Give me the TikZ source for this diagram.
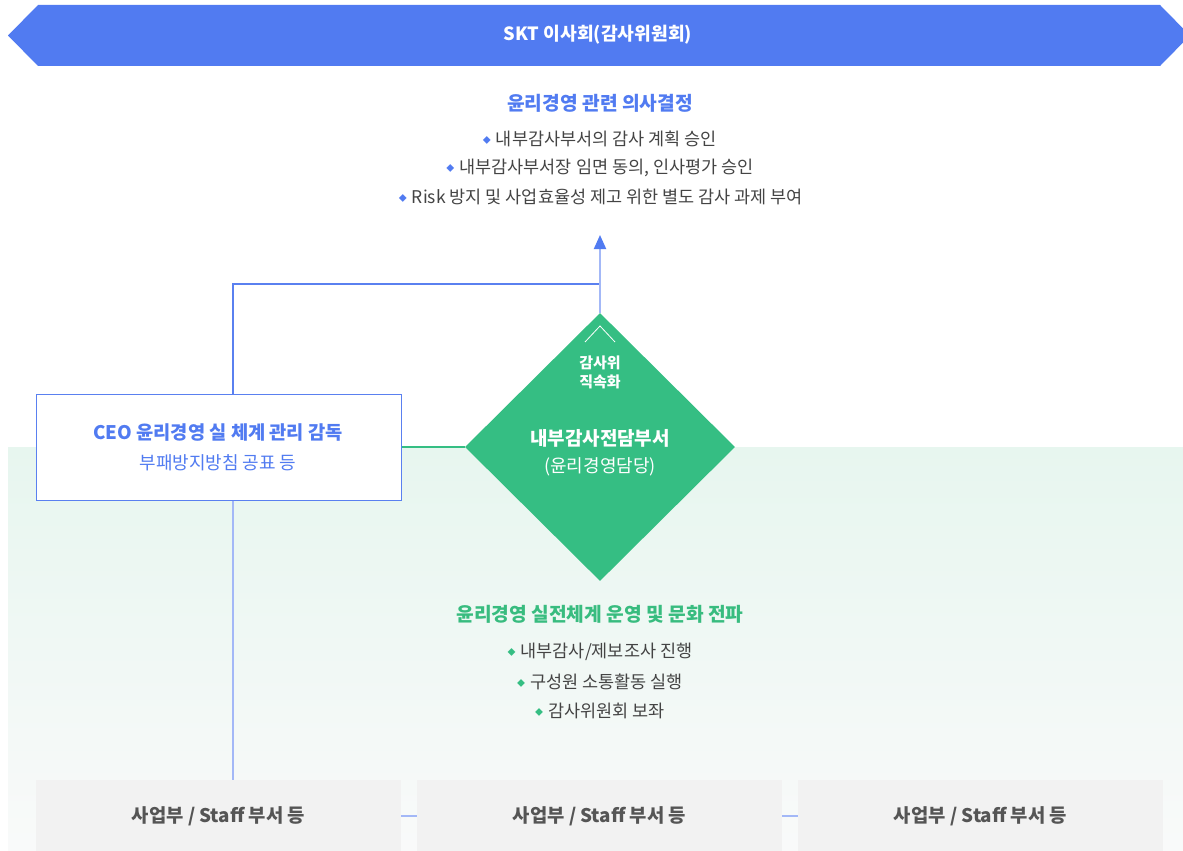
\documentclass[tikz,border=0pt]{standalone}
\usepackage{fontspec}
\setmainfont{Noto Sans CJK KR}
\usetikzlibrary{shapes.geometric,arrows.meta}
\definecolor{skblue}{HTML}{517BF1}
\definecolor{lineblue}{HTML}{5A80F0}
\definecolor{lightblue}{HTML}{A3B8F7}
\definecolor{skgreen}{HTML}{35BE83}
\definecolor{txtgreen}{HTML}{38BC7F}
\definecolor{txtgray}{HTML}{444444}
\definecolor{boxgray}{HTML}{F2F2F2}
\definecolor{boxtxt}{HTML}{555555}
\definecolor{bgtop}{HTML}{E7F6EF}
\definecolor{bgbot}{HTML}{F9FAFA}
\newcommand\bulB{\raisebox{2pt}{\fontsize{8}{8}\selectfont\textcolor{skblue}{◆}}\hspace{5pt}}
\newcommand\bulG{\raisebox{2pt}{\fontsize{8}{8}\selectfont\textcolor{skgreen}{◆}}\hspace{5pt}}
\tikzset{
  heading/.style={font=\fontsize{19.2}{21}\selectfont\bfseries, inner sep=0},
  bullet/.style={font=\fontsize{17.5}{19}\selectfont, text=txtgray, inner sep=0},
  unitbox/.style={fill=boxgray, minimum width=365pt, minimum height=72pt, inner sep=0,
                  font=\fontsize{18.8}{20}\selectfont\bfseries, text=boxtxt},
  blueline/.style={draw=lineblue, line width=1.2pt},
  lightline/.style={draw=lightblue, line width=1.2pt},
  greenline/.style={draw=skgreen, line width=1.2pt},
  wtxt/.style={text=white, inner sep=0},
}
\begin{document}
\begin{tikzpicture}[x=1pt,y=-1pt]
\useasboundingbox (0,0) rectangle (1183,851);
% background band
\fill[top color=bgtop, bottom color=bgbot] (8,447) rectangle (1183,851);
% banner
\fill[skblue] (8,35.5) -- (38,5) -- (1160,5) -- (1183,28.4) -- (1183,42.6) -- (1160,66) -- (38,66) -- cycle;
\node[wtxt, font=\fontsize{18.2}{20}\selectfont\bfseries] (board) at (598,35) {SKT 이사회(감사위원회)};
% top text
\node[heading, text=skblue] (h1) at (600,103) {윤리경영 관련 의사결정};
\node[bullet] (t1) at (600,139) {\bulB 내부감사부서의 감사 계획 승인};
\node[bullet] (t2) at (600,168) {\bulB 내부감사부서장 임면 동의, 인사평가 승인};
\node[bullet] (t3) at (601,197) {\bulB Risk 방지 및 사업효율성 제고 위한 별도 감사 과제 부여};
% diamond
\node[diamond, aspect=1, fill=skgreen, minimum width=270pt, minimum height=268pt, inner sep=0] (dia) at (600,447) {};
\draw[white, line width=0.8pt] (585,342) -- (600,326) -- (615,342);
\node[wtxt, font=\fontsize{15}{17}\selectfont\bfseries] (d1) at (600,363) {감사위};
\node[wtxt, font=\fontsize{15}{17}\selectfont\bfseries] (d2) at (600,382) {직속화};
\node[wtxt, font=\fontsize{19}{21}\selectfont\bfseries] (d3) at (600,438) {내부감사전담부서};
\node[wtxt, font=\fontsize{18}{20}\selectfont] (d4) at (600,467) {(윤리경영담당)};
% CEO box
\node[draw=lineblue, line width=1pt, fill=white, minimum width=365pt, minimum height=106pt, inner sep=0] (ceo) at (218.5,447) {};
\node[heading, font=\fontsize{18.7}{20}\selectfont\bfseries, text=skblue] (c1) at (218,433) {CEO 윤리경영 실 체계 관리 감독};
\node[font=\fontsize{18}{20}\selectfont, text=skblue, inner sep=0] (c2) at (218,463) {부패방지방침 공표 등};
% bottom text
\node[heading, text=txtgreen] (h2) at (600,614) {윤리경영 실전체계 운영 및 문화 전파};
\node[bullet] (g1) at (600,652) {\bulG 내부감사/제보조사 진행};
\node[bullet] (g2) at (600,682) {\bulG 구성원 소통활동 실행};
\node[bullet] (g3) at (600,711) {\bulG 감사위원회 보좌};
% unit boxes
\node[unitbox] (b1) at (218.5,816) {사업부 / Staff 부서 등};
\node[unitbox] (b2) at (599.5,816) {사업부 / Staff 부서 등};
\node[unitbox] (b3) at (980.5,816) {사업부 / Staff 부서 등};
% connectors
\coordinate (j) at (600,284);
\coordinate (tip) at (600,235);
\draw[blueline] ([xshift=14.5pt]ceo.north) |- (j);
\draw[draw=lightblue, line width=2pt, -{Triangle[width=12pt,length=14pt,color=skblue]}] (dia.north) -- (tip);
\draw[greenline] (ceo.east) -- (dia.west);
\draw[lightline] ([xshift=14.5pt]ceo.south) -- ([xshift=14.5pt]b1.north);
\draw[lightline] (b1.east) -- (b2.west);
\draw[lightline] (b2.east) -- (b3.west);
\end{tikzpicture}
\end{document}
